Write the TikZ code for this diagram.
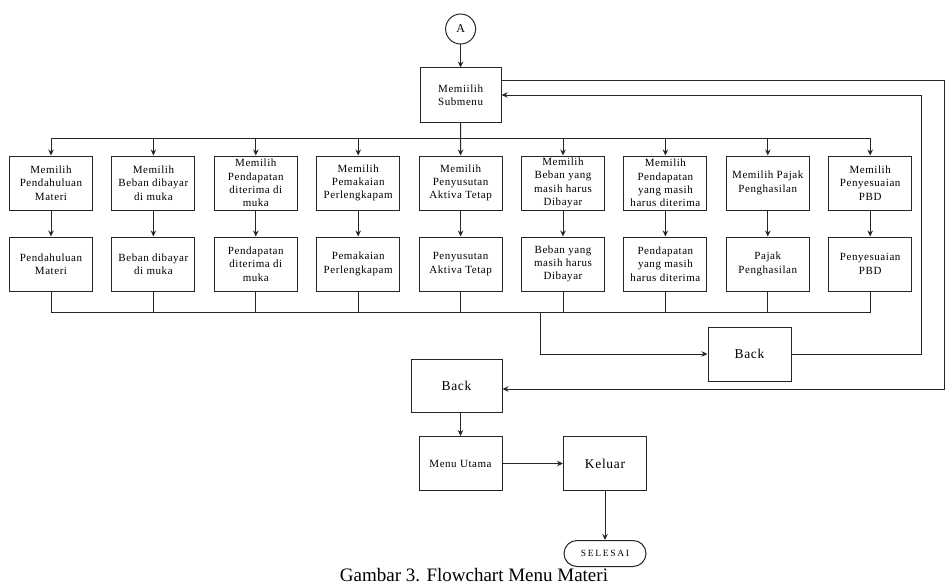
\documentclass[tikz,border=0pt]{standalone}
\usepackage{fontspec}
\setmainfont{Liberation Serif}
\newfontfamily\boxfont[LetterSpace=5]{Liberation Serif}
\newfontfamily\capfont[LetterSpace=18]{Liberation Serif}
\usetikzlibrary{positioning, arrows.meta}
\definecolor{linegray}{HTML}{262626}

\begin{document}
\begin{tikzpicture}[
            x=1pt, y=-1pt,
            node distance=18.4pt,
            box/.style={rectangle, draw=linegray, line width=1pt, align=center,
                        minimum width=83pt, minimum height=54pt, inner sep=1pt,
                        font=\boxfont\fontsize{11}{13.3}\selectfont},
            bigbox/.style={box, font=\boxfont\fontsize{13.5}{15}\selectfont},
            terminal/.style={rectangle, rounded corners=13pt, draw=linegray, line width=1pt,
                        minimum width=82pt, minimum height=26pt, inner sep=1pt,
                        font=\capfont\fontsize{9.5}{11}\selectfont},
            connector/.style={circle, draw=linegray, line width=1pt, minimum size=30pt,
                        inner sep=0pt, font=\fontsize{12}{14}\selectfont},
            arrow/.style={->, >={Stealth[length=6pt, width=5.5pt]}, line width=1pt, color=linegray},
            line/.style={line width=1pt, color=linegray}
        ]
            \useasboundingbox (0,0) rectangle (948,586);

            \node[connector] (a) at (460.6,29) {A};
            \node[box, minimum width=81pt] (submenu) at (460.6,95) {Memiilih\\Submenu};

            % pilihan submenu
            \node[box] (mpendahuluan) at (51,183) {Memilih\\Pendahuluan\\Materi};
            \node[box, right=of mpendahuluan] (mbeban) {Memilih\\Beban dibayar\\di muka};
            \node[box, right=of mbeban] (mpendapatan) {Memilih\\Pendapatan\\diterima di\\muka};
            \node[box, right=of mpendapatan] (mpemakaian) {Memilih\\Pemakaian\\Perlengkapam};
            \node[box, right=of mpemakaian] (mpenyusutan) {Memilih\\Penyusutan\\Aktiva Tetap};
            \node[box, right=of mpenyusutan] (mbebanhutang) {Memilih\\Beban yang\\masih harus\\Dibayar};
            \node[box, right=of mbebanhutang] (mpendapatanpiutang) {Memilih\\Pendapatan\\yang masih\\harus diterima};
            \node[box, right=of mpendapatanpiutang] (mpajak) {Memilih Pajak\\Penghasilan};
            \node[box, right=of mpajak] (mpenyesuaian) {Memilih\\Penyesuaian\\PBD};

            % halaman materi
            \node[box, below=26pt of mpendahuluan] (pendahuluan) {Pendahuluan\\Materi};
            \node[box, below=26pt of mbeban] (beban) {Beban dibayar\\di muka};
            \node[box, below=26pt of mpendapatan] (pendapatan) {Pendapatan\\diterima di\\muka};
            \node[box, below=26pt of mpemakaian] (pemakaian) {Pemakaian\\Perlengkapam};
            \node[box, below=26pt of mpenyusutan] (penyusutan) {Penyusutan\\Aktiva Tetap};
            \node[box, below=26pt of mbebanhutang] (bebanhutang) {Beban yang\\masih harus\\Dibayar};
            \node[box, below=26pt of mpendapatanpiutang] (pendapatanpiutang) {Pendapatan\\yang masih\\harus diterima};
            \node[box, below=26pt of mpajak] (pajak) {Pajak\\Penghasilan};
            \node[box, below=26pt of mpenyesuaian] (penyesuaian) {Penyesuaian\\PBD};

            \node[bigbox] (backright) at (749.5,354) {Back};
            \node[bigbox, minimum width=91pt, minimum height=53pt] (backleft) at (456.5,385.5) {Back};
            \node[box] (menuutama) at (460.5,463.5) {Menu Utama};
            \node[bigbox] (keluar) at (605,463.5) {Keluar};
            \node[terminal] (selesai) at (605,553.5) {SELESAI};

            \node[font=\fontsize{19}{21}\selectfont] (caption) at (474,575) {Gambar 3. Flowchart Menu Materi};

            \coordinate (split) at (460.6,138);
            \coordinate (join) at (540,312);

            \draw[arrow] (a) -- (submenu);
            \draw[arrow] (submenu) -- (mpenyusutan);
            \draw[arrow] (split) -| (mpendahuluan);
            \draw[arrow] (split) -| (mbeban);
            \draw[arrow] (split) -| (mpendapatan);
            \draw[arrow] (split) -| (mpemakaian);
            \draw[arrow] (split) -| (mbebanhutang);
            \draw[arrow] (split) -| (mpendapatanpiutang);
            \draw[arrow] (split) -| (mpajak);
            \draw[arrow] (split) -| (mpenyesuaian);

            \draw[arrow] (mpendahuluan) -- (pendahuluan);
            \draw[arrow] (mbeban) -- (beban);
            \draw[arrow] (mpendapatan) -- (pendapatan);
            \draw[arrow] (mpemakaian) -- (pemakaian);
            \draw[arrow] (mpenyusutan) -- (penyusutan);
            \draw[arrow] (mbebanhutang) -- (bebanhutang);
            \draw[arrow] (mpendapatanpiutang) -- (pendapatanpiutang);
            \draw[arrow] (mpajak) -- (pajak);
            \draw[arrow] (mpenyesuaian) -- (penyesuaian);

            \draw[line] (pendahuluan) |- (join);
            \draw[line] (beban) |- (join);
            \draw[line] (pendapatan) |- (join);
            \draw[line] (pemakaian) |- (join);
            \draw[line] (penyusutan) |- (join);
            \draw[line] (bebanhutang) |- (join);
            \draw[line] (pendapatanpiutang) |- (join);
            \draw[line] (pajak) |- (join);
            \draw[line] (penyesuaian) |- (join);

            \draw[arrow] (join) |- (backright);
            \draw[arrow] (backright.east) -- ++(130,0) |- (submenu.east);
            \draw[arrow] ([yshift=14pt]submenu.east) -- ++(443,0) |- ([yshift=-3.5pt]backleft.east);
            \draw[arrow] (backleft.south -| menuutama.north) -- (menuutama.north);
            \draw[arrow] (menuutama) -- (keluar);
            \draw[arrow] (keluar) -- (selesai);
        \end{tikzpicture}
\end{document}
